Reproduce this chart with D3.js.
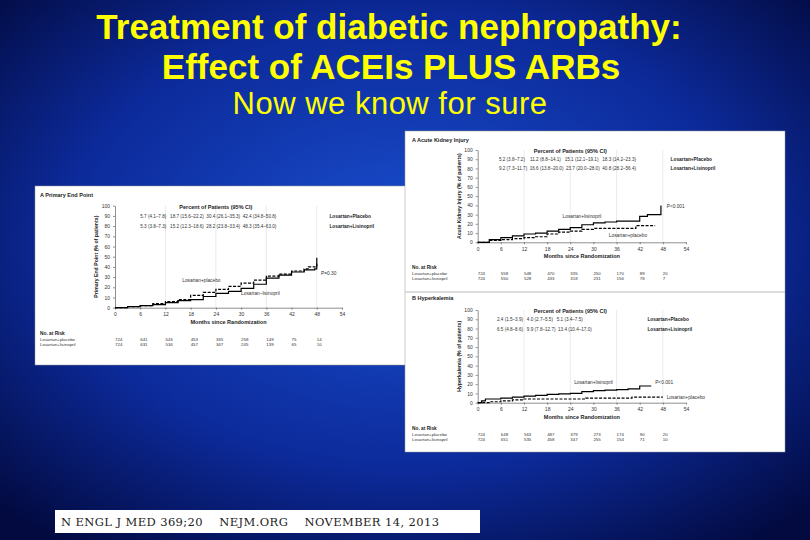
<!DOCTYPE html>
<html><head><meta charset="utf-8">
<script src="https://cdn.jsdelivr.net/npm/d3@7"></script>
<style>body{margin:0;overflow:hidden}</style>
</head><body><svg id="c" width="810" height="540"></svg>
<script>
// data
var months = [0, 6, 12, 18, 24, 30, 36, 42, 48, 54];
var yTicks = [0, 10, 20, 30, 40, 50, 60, 70, 80, 90, 100];

var primaryPlacebo = [[0,0],[3,1],[6,2],[9,4],[12,6],[15,8],[18,12],[21,15],[24,18],[27,21],[30,24],[33,27],[36,31],[39,33],[42,36],[45,38],[46,40],[48,43]];
var primaryLisino = [[0,0],[3,1],[6,2],[9,3],[12,5],[15,7],[18,8],[21,11],[24,14],[27,16],[30,19],[33,23],[36,29],[39,32],[42,35],[45,37],[47.5,38],[48,49]];
var primaryRiskPlacebo = [724, 641, 543, 453, 335, 258, 149, 75, 14];
var primaryRiskLisino = [724, 631, 534, 457, 347, 245, 139, 65, 10];
var primaryPct = ["5.7 (4.1\u20137.8)   18.7 (15.6\u201322.2)  30.4 (26.1\u201335.3)  42.4 (34.8\u201350.8)",
                  "5.3 (3.8\u20137.3)   15.2 (12.3\u201318.6)  28.2 (23.8\u201333.4)  48.3 (35.4\u201363.0)"];

var akiLisino = [[0,0],[3,3],[6,5],[9,7],[12,9],[15,10],[18,12],[21,14],[24,16],[27,19],[30,21],[33,22],[36,23],[39,23],[42,28],[44,30],[47.5,30],[47.5,40]];
var akiPlacebo = [[0,0],[3,2],[6,3],[9,4],[12,5],[15,6],[18,9],[21,11],[24,12],[27,14],[30,15],[36,15],[40.5,15],[41,18],[46,18]];
var akiRiskPlacebo = [724, 558, 548, 470, 335, 250, 170, 89, 20];
var akiRiskLisino = [724, 550, 528, 433, 318, 231, 156, 78, 7];
var akiPct = ["5.2 (3.8\u20137.2)    11.2 (8.8\u201314.1)   15.1 (12.1\u201319.1)   18.3 (14.2\u201323.3)",
              "9.2 (7.3\u201311.7)  16.6 (13.8\u201320.0)  23.7 (20.0\u201328.0)  40.8 (28.2\u201356.4)"];

var hyperLisino = [[0,0],[1,2],[2,4],[6,5],[9,6],[12,7],[15,8],[18,9],[21,9.5],[24,10],[27,12],[30,13],[33,13.5],[36,14],[39,15],[42,18],[45,18]];
var hyperPlacebo = [[0,0],[3,1],[6,2],[9,3],[12,4],[24,4],[28,5],[36,5],[40,6],[48,6]];
var hyperRiskPlacebo = [724, 648, 563, 487, 379, 273, 174, 90, 20];
var hyperRiskLisino = [724, 651, 535, 458, 347, 255, 154, 71, 10];
var hyperPct = ["2.4 (1.5\u20133.9)   4.0 (2.7\u20135.5)   5.1 (3.4\u20137.5)",
                "6.5 (4.8\u20138.6)   9.9 (7.8\u201312.7)  13.4 (10.4\u201317.0)"];

var svg = d3.select("#c");
var defs = svg.append("defs");
var g = defs.append("radialGradient").attr("id", "bg").attr("cx", "50%").attr("cy", "45%").attr("r", "70%");
g.append("stop").attr("offset", "0%").attr("stop-color", "#1a4fd0");
g.append("stop").attr("offset", "60%").attr("stop-color", "#0c2a9a");
g.append("stop").attr("offset", "100%").attr("stop-color", "#020a40");
svg.append("rect").attr("width", 810).attr("height", 540).attr("fill", "url(#bg)");

var titleFont = "Arial, 'Liberation Sans', sans-serif";
svg.append("text").attr("x", 389).attr("y", 39).attr("text-anchor", "middle").attr("font-family", titleFont)
  .attr("font-weight", "bold").attr("font-size", 35).attr("fill", "#ffff00").text("Treatment of diabetic nephropathy:");
svg.append("text").attr("x", 391).attr("y", 79).attr("text-anchor", "middle").attr("font-family", titleFont)
  .attr("font-weight", "bold").attr("font-size", 35).attr("fill", "#ffff00").text("Effect of ACEIs PLUS ARBs");
svg.append("text").attr("x", 390).attr("y", 114).attr("text-anchor", "middle").attr("font-family", titleFont)
  .attr("font-size", 31).attr("fill", "#ffff00").attr("letter-spacing", 0.5).text("Now we know for sure");

var small = "'Liberation Sans', Arial, sans-serif";

function panel(o) {
  var x = d3.scaleLinear().domain([0, 54]).range([o.x0, o.x1]);
  var y = d3.scaleLinear().domain([0, 100]).range([o.y0, o.y1]);
  var p = svg.append("g");
  p.append("text").attr("x", o.lx).attr("y", o.ly).attr("font-family", small).attr("font-size", 5.5)
    .attr("font-weight", "bold").attr("fill", "#222").text(o.label);
  // light vertical guides
  p.selectAll("line.gd").data([12, 24, 36, 48]).enter().append("line")
    .attr("x1", d => x(d)).attr("x2", d => x(d)).attr("y1", y(100)).attr("y2", y(0))
    .attr("stroke", "#ddd").attr("stroke-width", 0.6);
  p.append("g").attr("transform", "translate(0," + o.y0 + ")")
    .call(d3.axisBottom(x).tickValues(months).tickSize(2).tickSizeOuter(0))
    .call(a => a.selectAll("text").attr("font-size", 5).attr("font-family", small).attr("fill", "#333"))
    .call(a => a.selectAll("path,line").attr("stroke", "#444").attr("stroke-width", 0.6));
  p.append("g").attr("transform", "translate(" + o.x0 + ",0)")
    .call(d3.axisLeft(y).tickValues(yTicks).tickSize(2).tickSizeOuter(0))
    .call(a => a.selectAll("text").attr("font-size", 5).attr("font-family", small).attr("fill", "#333"))
    .call(a => a.selectAll("path,line").attr("stroke", "#444").attr("stroke-width", 0.6));
  p.append("text").attr("transform", "translate(" + (o.x0 - 17) + "," + y(50) + ") rotate(-90)")
    .attr("text-anchor", "middle").attr("font-family", small).attr("font-size", 5.2).attr("font-weight", "bold")
    .attr("fill", "#222").text(o.ylab);
  p.append("text").attr("x", x(27)).attr("y", o.y0 + 16).attr("text-anchor", "middle").attr("font-family", small)
    .attr("font-size", 5.5).attr("font-weight", "bold").attr("fill", "#222").text("Months since Randomization");
  p.append("text").attr("x", x(24)).attr("y", y(100) + 3).attr("text-anchor", "middle").attr("font-family", small)
    .attr("font-size", 5.5).attr("font-weight", "bold").attr("fill", "#222").text("Percent of Patients (95% CI)");
  o.pct.forEach(function (t, i) {
    p.append("text").attr("x", x(o.pctX)).attr("y", y(90 - i * 10) + 2).attr("font-family", small)
      .attr("font-size", 4.6).attr("fill", "#333").attr("xml:space", "preserve").text(t);
    p.append("text").attr("x", x(o.legX)).attr("y", y(90 - i * 10) + 2).attr("font-family", small)
      .attr("font-size", 4.8).attr("font-weight", "bold").attr("fill", "#222")
      .text(i ? "Losartan+Lisinopril" : "Losartan+Placebo");
  });
  var line = d3.line().x(d => x(d[0])).y(d => y(d[1])).curve(d3.curveStepAfter);
  p.append("path").datum(o.solid).attr("d", line).attr("fill", "none").attr("stroke", "#000").attr("stroke-width", 1.2);
  p.append("path").datum(o.dashed).attr("d", line).attr("fill", "none").attr("stroke", "#000")
    .attr("stroke-width", 1.2).attr("stroke-dasharray", "3,1.5");
  o.notes.forEach(function (n) {
    p.append("text").attr("x", x(n[0])).attr("y", y(n[1])).attr("font-family", small).attr("font-size", 4.8)
      .attr("fill", "#333").text(n[2]);
  });
  var ry = o.y0 + 27;
  p.append("text").attr("x", o.lx).attr("y", ry).attr("font-family", small).attr("font-size", 4.8)
    .attr("font-weight", "bold").attr("fill", "#222").text("No. at Risk");
  [["Losartan+placebo", o.riskP], ["Losartan+lisinopril", o.riskL]].forEach(function (r, i) {
    var yy = ry + 6 + i * 5;
    p.append("text").attr("x", o.lx).attr("y", yy).attr("font-family", small).attr("font-size", 4.4)
      .attr("fill", "#333").text(r[0]);
    p.selectAll(null).data(r[1]).enter().append("text").attr("x", (d, k) => x(months[k]))
      .attr("y", yy).attr("font-family", small).attr("font-size", 4.4).attr("fill", "#333").text(d => d);
  });
}

// left panel
svg.append("rect").attr("x", 35).attr("y", 186).attr("width", 374).attr("height", 179).attr("fill", "#fff")
  .attr("stroke", "#999").attr("stroke-width", 0.5);
panel({x0: 115, x1: 342, y0: 307.7, y1: 205.7, lx: 40, ly: 197, label: "A   Primary End Point",
  ylab: "Primary End Point (% of patients)", pct: primaryPct, pctX: 6, legX: 51,
  solid: primaryLisino, dashed: primaryPlacebo, riskP: primaryRiskPlacebo, riskL: primaryRiskLisino,
  notes: [[16, 25, "Losartan+placebo"], [30, 12, "Losartan\u2013lisinopril"], [49, 32, "P=0.30"]]});

// right panel
svg.append("rect").attr("x", 405).attr("y", 131).attr("width", 380).attr("height", 321).attr("fill", "#fff")
  .attr("stroke", "#999").attr("stroke-width", 0.5);
svg.append("line").attr("x1", 405).attr("x2", 785).attr("y1", 292).attr("y2", 292).attr("stroke", "#bbb").attr("stroke-width", 1);
panel({x0: 477.7, x1: 686, y0: 242.3, y1: 150, lx: 412, ly: 142, label: "A   Acute Kidney Injury",
  ylab: "Acute Kidney Injury (% of patients)", pct: akiPct, pctX: 5.5, legX: 50,
  solid: akiLisino, dashed: akiPlacebo, riskP: akiRiskPlacebo, riskL: akiRiskLisino,
  notes: [[22, 26, "Losartan+lisinopril"], [34, 6, "Losartan+placebo"], [49, 37, "P<0.001"]]});
panel({x0: 477.7, x1: 686, y0: 402.7, y1: 310, lx: 412, ly: 300, label: "B   Hyperkalemia",
  ylab: "Hyperkalemia (% of patients)", pct: hyperPct, pctX: 5, legX: 44,
  solid: hyperLisino, dashed: hyperPlacebo, riskP: hyperRiskPlacebo, riskL: hyperRiskLisino,
  notes: [[25, 20, "Losartan+lisinopril"], [46, 20, "P<0.001"], [49, 4, "Losartan+placebo"]]});

// citation strip
svg.append("rect").attr("x", 55).attr("y", 510).attr("width", 425).attr("height", 23).attr("fill", "#fff");
svg.append("text").attr("x", 61).attr("y", 526).attr("font-family", "'DejaVu Serif', serif").attr("font-size", 11.5)
  .attr("letter-spacing", 0.4).attr("fill", "#222").attr("xml:space", "preserve")
  .text("N ENGL J MED 369;20    NEJM.ORG    NOVEMBER 14, 2013");
</script></body></html>
